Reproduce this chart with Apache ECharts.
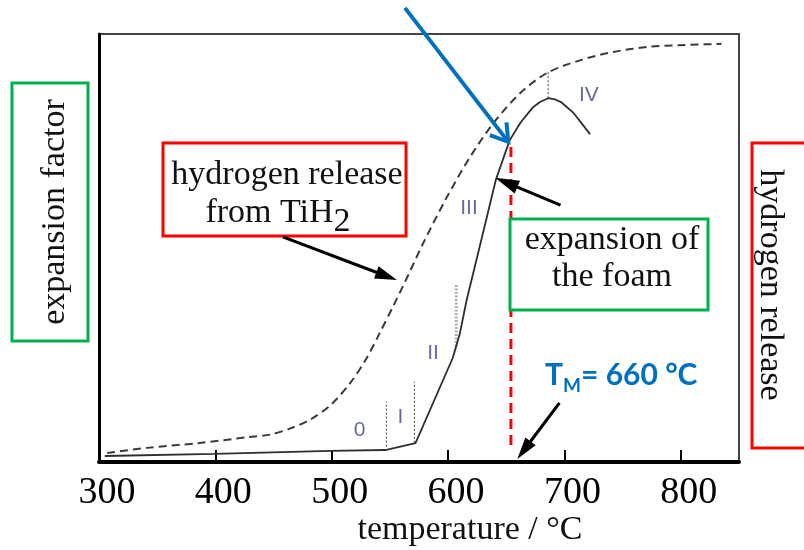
<!DOCTYPE html>
<html><head><meta charset="utf-8">
<script src="https://cdn.jsdelivr.net/npm/echarts@6/dist/echarts.min.js"></script>
<style>html,body{margin:0;padding:0;background:#fff}#c{width:804px;height:550px}</style>
</head><body><div id="c"></div>
<script>
// ---- data ----
const xTickValues = [400, 500, 600, 700, 800];
const xLabelValues = [300, 400, 500, 600, 700, 800];
const h2Temp = [307, 341, 385, 428, 447, 465, 482, 499, 516, 529, 541, 553, 566, 578, 599, 619, 639, 662, 685, 714, 742, 772, 800, 835];
const h2Release = [2.1, 3.3, 4.4, 5.8, 6.4, 7.9, 10.0, 13.3, 18.5, 23.8, 30.0, 36.5, 43.8, 50.8, 61.9, 71.3, 79.2, 86.2, 90.9, 93.9, 95.8, 97.0, 97.4, 97.7];
const expTemp = [305, 399, 499, 546, 572, 604, 610, 616, 625, 634, 641, 647, 653, 662, 673, 679, 686, 692, 697, 708, 722];
const expFactor = [1.4, 1.9, 2.6, 2.8, 4.4, 24.3, 29.9, 37.9, 47.9, 58.0, 65.9, 70.6, 75.2, 79.2, 82.9, 84.1, 85.0, 84.7, 84.1, 81.5, 76.6];
const stageBoundaryTemp = [547, 571, 607, 686];
const stageBoundaryLow = [3.6, 4.5, 27.0, 85.0];
const stageBoundaryHigh = [14.1, 18.8, 41.4, 91.2];
const stageNames = ['0', 'I', 'II', 'III', 'IV'];
const stageLabelTemp = [524, 559, 587, 618, 721];
const stageLabelY = [7.5, 10.4, 25.4, 59.3, 85.7];
const meltLineTemp = 654;
const meltLineRange = [4.0, 74.5];
const meltLabel = 660;
// annotation arrows (data coordinates: [temperature, relative value])
const arrowH2 = [[458, 52.6], [556, 42.5]];
const arrowFoam = [[696.6, 60.0], [640.5, 66.4]];
const arrowMelt = [[695.7, 13.8], [659.5, 0.7]];
const arrowBlue = [[562.9, 106.1], [651.7, 74.8]];

const chart = echarts.init(document.getElementById('c'), null, {renderer: 'canvas'});
const pairs = (xs, ys) => xs.map((x, i) => [x, ys[i]]);
const serif = '"Liberation Serif", "Times New Roman", serif';

const series = [
  {type: 'line', name: 'hydrogen release', data: pairs(h2Temp, h2Release), smooth: 0.3, symbol: 'none',
   lineStyle: {color: '#3a3a3a', width: 2, type: [8, 5]}, z: 3, silent: true},
  {type: 'line', name: 'expansion factor', data: pairs(expTemp, expFactor), symbol: 'none',
   lineStyle: {color: '#2e2e2e', width: 1.8}, z: 3, silent: true}
];
stageBoundaryTemp.forEach((t, i) => {
  series.push({type: 'line', data: [[t, stageBoundaryLow[i]], [t, stageBoundaryHigh[i]]], symbol: 'none', silent: true,
    lineStyle: i === 2 ? {color: '#b0b0b0', width: 3, type: [2, 1.5]} : {color: '#444', width: 1, type: [2, 2]}, z: 2});
});
series.push({type: 'line', data: [[meltLineTemp, meltLineRange[0]], [meltLineTemp, meltLineRange[1]]], symbol: 'none', silent: true,
  lineStyle: {color: '#ff0000', width: 3, type: [10, 6]}, z: 4});
series.push({type: 'scatter', silent: true,
  data: stageNames.map((n, i) => ({name: n, value: [stageLabelTemp[i], stageLabelY[i]]})),
  symbolSize: 1, itemStyle: {color: 'rgba(0,0,0,0)'},
  label: {show: true, position: 'inside', formatter: '{b}', fontFamily: 'Liberation Sans', fontSize: 21, color: '#3f4383'}, z: 5});

chart.setOption({
  animation: false,
  grid: {left: 99, right: 65, top: 34, bottom: 88, show: true, borderColor: '#444', borderWidth: 2},
  xAxis: {type: 'value', min: 300, max: 850, interval: 100,
    axisLine: {show: true, lineStyle: {color: '#000', width: 4}},
    axisTick: {show: true, inside: true, length: 12, customValues: xTickValues, lineStyle: {color: '#000', width: 2}},
    axisLabel: {customValues: xLabelValues, fontFamily: serif, fontSize: 38, color: '#000', margin: 12, padding: [0, 0, 0, 16]},
    splitLine: {show: false}},
  yAxis: {type: 'value', min: 0, max: 100,
    axisLine: {show: true, lineStyle: {color: '#000', width: 3}},
    axisTick: {show: false}, axisLabel: {show: false}, splitLine: {show: false}},
  series: series
});

const px = (p) => chart.convertToPixel({gridIndex: 0}, p);
function arrowEls(a, b, color, w, hl, hw, open) {
  const [x0, y0] = px(a), [x1, y1] = px(b);
  const dx = x1 - x0, dy = y1 - y0, L = Math.hypot(dx, dy), ux = dx / L, uy = dy / L, nx = -uy, ny = ux;
  const bx = x1 - ux * hl, by = y1 - uy * hl;
  const l = [bx + nx * hw / 2, by + ny * hw / 2], r = [bx - nx * hw / 2, by - ny * hw / 2];
  if (open) return [
    {type: 'line', shape: {x1: x0, y1: y0, x2: x1, y2: y1}, style: {stroke: color, lineWidth: w}, z: 100, silent: true},
    {type: 'polyline', shape: {points: [l, [x1, y1], r]}, style: {stroke: color, lineWidth: w, fill: null, lineJoin: 'miter'}, z: 100, silent: true}];
  return [
    {type: 'line', shape: {x1: x0, y1: y0, x2: bx + ux * 2, y2: by + uy * 2}, style: {stroke: color, lineWidth: w}, z: 100, silent: true},
    {type: 'polygon', shape: {points: [[x1, y1], l, r]}, style: {fill: color}, z: 100, silent: true}];
}
function txt(x, y, text, font, opts) {
  opts = opts || {};
  return {type: 'text', x: x, y: y, rotation: opts.rotation || 0, z: 101, silent: true,
    style: Object.assign({text: text, font: font, fill: opts.fill || '#111',
      align: opts.align || 'center', textAlign: opts.align || 'center',
      verticalAlign: 'middle', textVerticalAlign: 'middle'}, opts.extra || {})};
}
function box(x, y, w, h, color) {
  return {type: 'rect', shape: {x: x, y: y, width: w, height: h}, style: {stroke: color, lineWidth: 3, fill: '#fff'}, z: 90, silent: true};
}
const f34 = '34px ' + serif;
const graphics = [
  box(163, 143, 243, 93, '#ff0000'),
  box(510, 219, 198, 91, '#00B050'),
  box(12, 83, 76, 258, '#00B050'),
  box(752, 143, 80, 305, '#ff0000'),
  txt(287, 175, 'hydrogen release', f34),
  {type: 'text', x: 278, y: 213, z: 101, silent: true,
   style: {text: '{a|from TiH}{b|2}', align: 'center', textAlign: 'center', verticalAlign: 'middle', textVerticalAlign: 'middle', fill: '#111',
     rich: {a: {fontFamily: serif, fontSize: 34, fill: '#111', color: '#111'},
            b: {fontFamily: serif, fontSize: 34, fill: '#111', color: '#111', padding: [18, 0, 0, 0]}}}},
  txt(612, 240, 'expansion of', f34),
  txt(612, 277, 'the foam', f34),
  txt(55, 212, 'expansion factor', f34, {rotation: Math.PI / 2}),
  txt(770, 285, 'hydrogen release', f34, {rotation: -Math.PI / 2}),
  txt(470, 530, 'temperature / °C', f34),
  {type: 'text', x: 545, y: 375, z: 101, silent: true,
   style: {text: '{a|T}{b|M}{a|= ' + meltLabel + ' °C}', align: 'left', textAlign: 'left', verticalAlign: 'middle', textVerticalAlign: 'middle', fill: '#0070C0',
     rich: {a: {fontFamily: 'Lato', fontWeight: 'bold', fontSize: 30, fill: '#0070C0', color: '#0070C0'},
            b: {fontFamily: 'Lato', fontWeight: 'bold', fontSize: 19, fill: '#0070C0', color: '#0070C0', padding: [22, 0, 0, 0]}}}}
];
graphics.push(...arrowEls(arrowH2[0], arrowH2[1], '#000', 3, 22, 13, false));
graphics.push(...arrowEls(arrowFoam[0], arrowFoam[1], '#000', 3, 24, 14, false));
graphics.push(...arrowEls(arrowMelt[0], arrowMelt[1], '#000', 3, 22, 13, false));
graphics.push(...arrowEls(arrowBlue[0], arrowBlue[1], '#0070C0', 4, 16.5, 21, true));
chart.setOption({graphic: {elements: graphics}});
</script>
</body></html>
